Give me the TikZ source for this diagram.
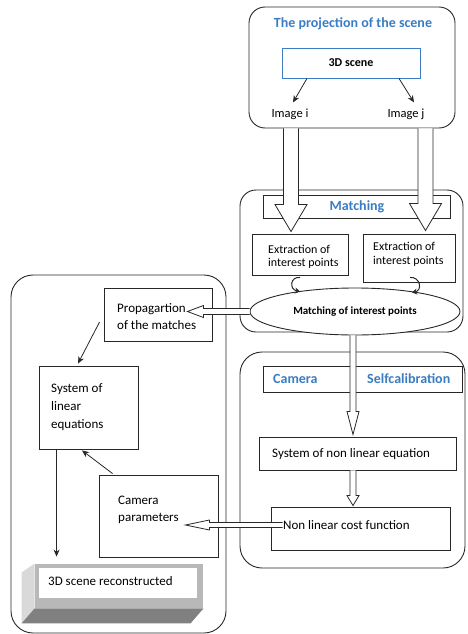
\documentclass[tikz,border=0pt]{standalone}
\usepackage{fontspec}
\setmainfont{Carlito}
\usetikzlibrary{calc,arrows.meta,shapes.geometric}
\definecolor{hblue}{RGB}{58,125,196}
\definecolor{lineclr}{RGB}{40,40,40}
\definecolor{bevelmid}{RGB}{184,184,184}
\definecolor{bevellight}{RGB}{217,217,217}
\definecolor{beveldark}{RGB}{128,128,128}
\tikzset{
  box/.style={draw=lineclr, line width=0.9pt, fill=white, minimum width=#1, inner sep=0pt},
  rbox/.style={draw=lineclr, line width=0.9pt, rounded corners=16pt, inner sep=0pt},
  hollow/.style={draw=lineclr, line width=0.8pt, fill=white},
  thin/.style={draw=lineclr, line width=0.8pt, -{Stealth[length=7pt,width=6pt]}},
  curl/.style={draw=lineclr, line width=1pt, -{Stealth[open,length=5pt,width=6pt]}},
  txt/.style={inner sep=0pt, font=\fontsize{13}{17}\selectfont, align=left, anchor=west},
  head/.style={inner sep=0pt, font=\fontsize{14}{16}\selectfont\bfseries, text=hblue},
}
% hollow arrows: #1 start, #2 tip, #3 shaft half width, #4 head half width, #5 head length
\newcommand\hollowdown[5]{\draw[hollow] let \p1=(#1),\p2=(#2) in
  (\x1-#3,\y1) -- (\x1-#3,\y2+#5) -- (\x1-#4,\y2+#5) -- (\x1,\y2) -- (\x1+#4,\y2+#5) -- (\x1+#3,\y2+#5) -- (\x1+#3,\y1);}
\newcommand\hollowleft[5]{\draw[hollow] let \p1=(#1),\p2=(#2) in
  (\x1,\y1+#3) -- (\x2+#5,\y1+#3) -- (\x2+#5,\y1+#4) -- (\x2,\y1) -- (\x2+#5,\y1-#4) -- (\x2+#5,\y1-#3) -- (\x1,\y1-#3);}
\begin{document}
\begin{tikzpicture}[x=1pt,y=-1pt]
\useasboundingbox[fill=white] (0,0) rectangle (467,634);

% ---------- top block
\node[rbox, minimum width=206pt, minimum height=121pt] (top) at (352,67.5) {};
\node[head] (title) at (353,24) {The projection of the scene};
\node[box=138pt, draw=hblue, minimum height=30pt, font=\fontsize{12}{14}\selectfont\bfseries] (scene) at (351,63) {3D scene};
\node[inner sep=1pt, font=\fontsize{12.5}{14}\selectfont] (imgi) at (290,114) {Image i};
\node[inner sep=1pt, font=\fontsize{12.5}{14}\selectfont] (imgj) at (406,114) {Image j};
\draw[thin] ($(scene.south)+(-44,0)$) -- ($(imgi.north)+(3,-5)$);
\draw[thin] ($(scene.south)+(48,0)$) -- ($(imgj.north)+(8,-5)$);

% ---------- matching block
\node[rbox, minimum width=223pt, minimum height=142pt] (match) at (351.5,261) {};
\node[box=187pt, minimum height=23pt] (matchhd) at (356.5,206.5) {};
\node[head] (matchtxt) at (357,207) {Matching};
\node[box=96pt, minimum height=41pt] (extl) at (300,254.5) {};
\node[box=92pt, minimum height=48pt] (extr) at (409,258) {};
\node[txt, font=\fontsize{12}{12.5}\selectfont] (extltxt) at (268,257) {Extraction of\\interest points};
\node[txt, font=\fontsize{12}{14}\selectfont] (extrtxt) at (373,254) {Extraction of\\interest points};
\node[ellipse, draw=lineclr, line width=0.9pt, fill=white, minimum width=210pt, minimum height=47pt, inner sep=0pt,
      font=\fontsize{11}{13}\selectfont\bfseries] (ell) at (355,311.5) {Matching of interest points};
% small curved arrows
\coordinate (cl1) at ($(extl.south)+(0,2)$);
\coordinate (cl2) at ($(extl.south)+(0,16)$);
\draw[curl] (cl1) .. controls ($(cl1)+(-10,-1)$) and ($(cl2)+(-11,-2)$) .. (cl2);
\coordinate (cr1) at ($(extr.south)+(1,-5)$);
\coordinate (cr2) at ($(extr.south)+(3,10)$);
\draw[curl] (cr1) .. controls ($(cr1)+(10,-1)$) and ($(cr2)+(11,-2)$) .. (cr2);

% big hollow arrows from top block
\coordinate (a1s) at ($(top.south)+(-61,0)$);
\coordinate (a1e) at ($(extl.north)+(-9,-2)$);
\coordinate (a2s) at ($(top.south)+(73.5,0)$);
\coordinate (a2e) at ($(extr.north)+(16.5,-3)$);
\hollowdown{a1s}{a1e}{7.5pt}{16pt}{27pt}
\hollowdown{a2s}{a2e}{7.5pt}{16pt}{27pt}

% ---------- camera selfcalibration block
\node[rbox, rounded corners=22pt, minimum width=225pt, minimum height=216pt] (calib) at (352.5,460) {};
\node[box=199pt, minimum height=26pt] (calibhd) at (362.5,379) {};
\node[head, anchor=west] (camtxt) at (273,379) {Camera};
\node[head, anchor=west] (selftxt) at (367,379) {Selfcalibration};
\node[box=197pt, minimum height=33pt] (sysnl) at (357.5,453.5) {};
\node[txt] (sysnltxt) at (272,454) {System of non linear equation};
\node[box=179pt, minimum height=43pt] (cost) at (360.5,528.5) {};

% ---------- left block
\node[rbox, rounded corners=22pt, minimum width=215pt, minimum height=358pt] (left) at (118.5,454) {};
\node[box=108pt, minimum height=53pt] (prop) at (158,314.5) {};
\node[txt] (proptxt) at (117,316.5) {Propagartion\\of the matches};
\node[box=99pt, minimum height=83pt] (syslin) at (88.5,407.5) {};
\node[txt, font=\fontsize{13}{18}\selectfont] (syslintxt) at (51,407) {System of\\linear\\equations};
\node[box=119pt, minimum height=82pt] (cam) at (158.5,516) {};
\node[txt] (camptxt) at (118,509.5) {Camera\\parameters};

% 3D scene reconstructed (bevel box)
\node[box=168pt, minimum height=44pt, draw=none, fill=bevelmid] (recon) at (119,586) {};
\fill[bevellight] (recon.north west) -- ($(recon.north west)+(-13,9)$) -- ($(recon.south west)+(-13,15)$) -- (recon.south west) -- cycle;
\fill[beveldark] (recon.south west) -- (recon.south east) -- ($(recon.south east)+(-13,15)$) -- ($(recon.south west)+(-13,15)$) -- cycle;
\fill[white] ($(recon.north west)+(4,4)$) rectangle ($(recon.south east)+(-6,-10)$);
\node[txt] (recontxt) at (48,581) {3D scene reconstructed};

% thin arrows in left block
\draw[thin] ($(prop.west)+(-4,7.5)$) -- ($(syslin.north)+(-10.5,-2)$);
\draw[thin] ($(cam.north west)+(14,-1)$) -- ($(syslin.south)+(-6.5,1)$);
\draw[thin] ($(syslin.south west)+(18,0)$) -- ($(recon.north west)+(22,-7)$);

% hollow arrows between blocks
\hollowleft{ell.west}{$(prop.east)+(-25,-2.5)$}{3pt}{6pt}{16pt}
\coordinate (d1s) at ($(ell.south)+(-2,0)$);
\coordinate (d1e) at ($(sysnl.north)+(-4.5,-2)$);
\hollowdown{d1s}{d1e}{3pt}{6pt}{23pt}
\coordinate (d2s) at ($(sysnl.south)+(-4.5,0)$);
\coordinate (d2e) at ($(cost.north)+(-7.5,-1)$);
\hollowdown{d2s}{d2e}{3pt}{6pt}{10pt}
\node[txt] (costtxt) at (283,525) {Non linear cost function};
\coordinate (h2s) at ($(cost.west)+(12,-3.5)$);
\coordinate (h2e) at ($(cam.east)+(-33,10)$);
\hollowleft{h2s}{h2e}{2.5pt}{5pt}{24pt}
\end{tikzpicture}
\end{document}
